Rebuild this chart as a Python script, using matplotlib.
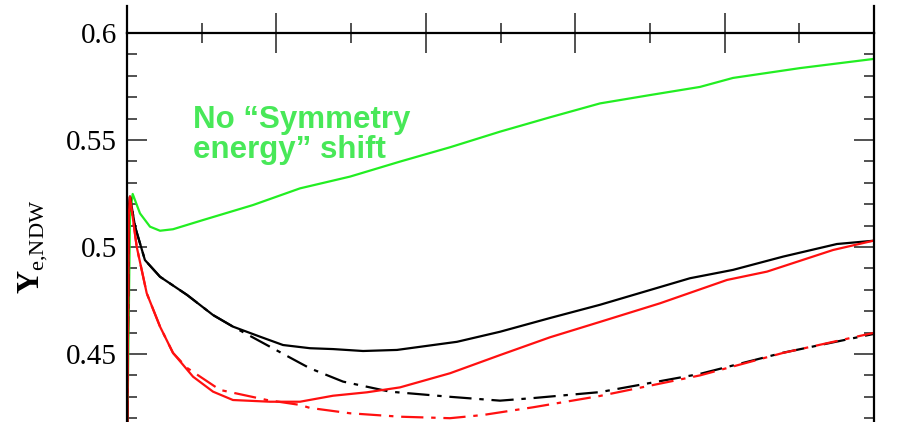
import matplotlib
matplotlib.use("Agg")
import matplotlib.pyplot as plt
from matplotlib.lines import Line2D
from matplotlib.ticker import MultipleLocator

# Electron fraction Y_e at the neutrino-driven wind, five time units across
t_green = [0.0, 0.02, 0.038, 0.087, 0.154, 0.221, 0.308, 0.509, 0.843, 1.158,
           1.493, 1.827, 2.162, 2.497, 2.831, 3.166, 3.501, 3.835, 4.056, 4.505, 5.0]
ye_green = [0.400, 0.515, 0.5248, 0.5157, 0.5095, 0.5076, 0.5083, 0.5126, 0.5196, 0.5274,
            0.5329, 0.5399, 0.5466, 0.5539, 0.5606, 0.5671, 0.5710, 0.5748, 0.5790, 0.5836, 0.5879]

t_black = [0.0, 0.012, 0.020, 0.054, 0.120, 0.221, 0.402, 0.576, 0.709, 0.890, 1.044,
           1.225, 1.379, 1.580, 1.807, 2.209, 2.497, 2.831, 3.166, 3.768, 4.056, 4.391,
           4.752, 4.993]
ye_black = [0.400, 0.515, 0.5235, 0.5095, 0.4939, 0.4861, 0.4776, 0.4682, 0.4628, 0.4581,
            0.4542, 0.4527, 0.4523, 0.4514, 0.4519, 0.4557, 0.4604, 0.4668, 0.4730, 0.4854,
            0.4893, 0.4955, 0.5014, 0.5029]

t_black_dd = [0.0, 0.012, 0.020, 0.054, 0.120, 0.221, 0.402, 0.576, 0.709, 0.957, 1.158,
              1.225, 1.446, 1.760, 2.162, 2.497, 2.718, 3.166, 3.835, 4.391, 4.993]
ye_black_dd = [0.400, 0.515, 0.5235, 0.5095, 0.4939, 0.4861, 0.4776, 0.4682, 0.4628, 0.4534,
               0.4458, 0.4433, 0.4371, 0.4324, 0.4300, 0.4282, 0.4294, 0.4322, 0.4407,
               0.4506, 0.4593]

t_red = [0.0, 0.012, 0.020, 0.065, 0.132, 0.221, 0.308, 0.442, 0.576, 0.709, 0.957,
         1.158, 1.379, 1.606, 1.827, 2.162, 2.497, 2.831, 3.166, 3.568, 4.016, 4.284,
         4.726, 4.993]
ye_red = [0.400, 0.515, 0.5235, 0.5001, 0.4784, 0.4628, 0.4505, 0.4394, 0.4324, 0.4285,
          0.4277, 0.4277, 0.4305, 0.4321, 0.4344, 0.4410, 0.4495, 0.4578, 0.4650, 0.4737,
          0.4846, 0.4885, 0.4986, 0.5029]

t_red_dd = [0.0, 0.012, 0.020, 0.065, 0.132, 0.221, 0.308, 0.402, 0.623, 0.937, 1.158,
            1.225, 1.493, 1.827, 2.162, 2.383, 2.718, 3.166, 3.835, 4.391, 4.993]
ye_red_dd = [0.400, 0.515, 0.5235, 0.5001, 0.4784, 0.4628, 0.4505, 0.4435, 0.4332, 0.4285,
             0.4262, 0.4248, 0.4223, 0.4207, 0.4200, 0.4215, 0.4251, 0.4304, 0.4400,
             0.4505, 0.4598]

y_major = [0.45, 0.5, 0.55, 0.6]
y_labels = ["0.45", "0.5", "0.55", "0.6"]

W, H = 906, 422
fig = plt.figure(figsize=(W / 100, H / 100), dpi=100)
x0, x1, ytop = 127, 874, 33
ax = fig.add_axes([x0 / W, 0.0, (x1 - x0) / W, 1 - ytop / H])
ax.set_xlim(0, 5)
ax.set_ylim(0.6 - (H - ytop) / 2140.0, 0.6)

dd = (0, (10, 3.5, 2, 3.5))
lw = 1.6
ax.plot(t_green, ye_green, color="#22ee22", lw=lw)
ax.plot(t_black_dd, ye_black_dd, color="black", lw=lw, linestyle=dd)
ax.plot(t_red_dd, ye_red_dd, color="#ff1010", lw=lw, linestyle=dd)
ax.plot(t_black, ye_black, color="black", lw=lw)
ax.plot(t_red, ye_red, color="#ff1010", lw=lw)

ax.text(193, H - 158, "No \u201cSymmetry\nenergy\u201d shift", transform=None,
        family="Liberation Sans", weight="bold", fontsize=22.5, color="#48e858",
        ha="left", va="baseline", linespacing=1.0)

# frame: no bottom edge, left/right edges run above the top edge
for side in ("left", "right", "top"):
    ax.spines[side].set_linewidth(1.6)
ax.spines["bottom"].set_visible(False)
for xp in (x0, x1):
    fig.add_artist(Line2D([xp / W, xp / W], [1 - ytop / H, 1 - 6 / H],
                          color="black", lw=1.6, transform=fig.transFigure))

ax.set_yticks(y_major)
ax.set_yticklabels(y_labels)
ax.yaxis.set_minor_locator(MultipleLocator(0.01))
ax.xaxis.set_major_locator(MultipleLocator(1))
ax.xaxis.set_minor_locator(MultipleLocator(0.5))
ax.tick_params(axis="y", which="major", direction="in", length=14.5, width=1.2,
               left=True, right=True, color="#333333", pad=7,
               labelsize=21, labelfontfamily="Liberation Serif")
ax.tick_params(axis="y", which="minor", direction="in", length=7.2, width=1.2,
               left=True, right=True, color="#333333")
ax.tick_params(axis="x", which="major", direction="inout", length=29, width=1.2,
               top=True, bottom=False, labeltop=False, labelbottom=False, color="#333333")
ax.tick_params(axis="x", which="minor", direction="inout", length=15, width=1.2,
               top=True, bottom=False, color="#333333")

plt.rcParams["mathtext.fontset"] = "custom"
plt.rcParams["mathtext.rm"] = "Liberation Serif"
plt.rcParams["mathtext.bf"] = "Liberation Serif:bold"
fig.text(33 / W, 1 - 247 / H, r"$\mathbf{Y}_{\mathrm{e{,}NDW}}$", rotation=90,
         ha="center", va="center", fontsize=23)

fig.savefig("out.png", dpi=100)
